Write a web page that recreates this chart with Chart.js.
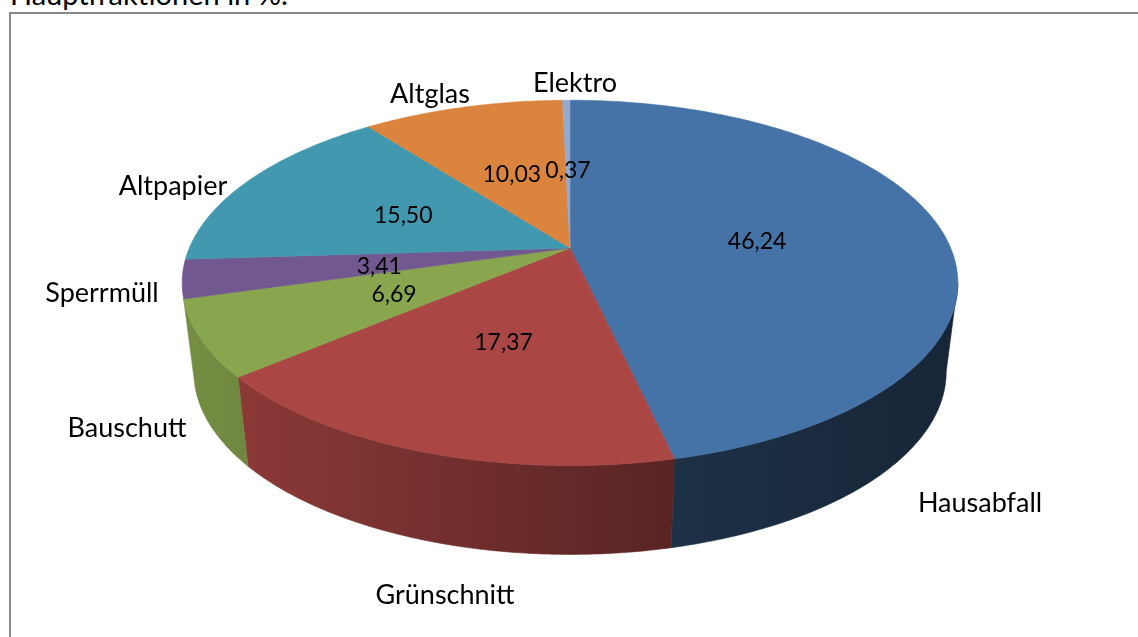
<!DOCTYPE html>
<html>
<head>
<meta charset="utf-8">
<script src="https://cdn.jsdelivr.net/npm/chart.js@4.4.1/dist/chart.umd.min.js"></script>
<style>
html, body { margin: 0; padding: 0; background: #fff; overflow: hidden; }
#wrap { position: relative; width: 1138px; height: 637px; overflow: hidden; }
#title { position: absolute; left: 10px; top: -21px; font: 29px Lato, sans-serif; line-height: 29px; color: #000; white-space: nowrap; }
#frame { position: absolute; left: 9px; top: 12px; width: 1300px; height: 800px; border-top: 2px solid #898989; border-left: 2px solid #898989; }
canvas { position: absolute; left: 0; top: 0; }
</style>
</head>
<body>
<div id="wrap">
    <div id="title">Hauptfraktionen in %.</div>
    <div id="frame"></div>
    <canvas id="pieChart" width="1138" height="637"></canvas>
</div>
<script>
// Hauptfraktionen in %
const categories = ['Hausabfall', 'Grünschnitt', 'Bauschutt', 'Sperrmüll', 'Altpapier', 'Altglas', 'Elektro'];
const shares = [46.24, 17.37, 6.69, 3.41, 15.50, 10.03, 0.37];

const topColors = ['#4572A7', '#AA4643', '#89A54E', '#71588F', '#4198AF', '#DB843D', '#93A9CF'];

// outer label anchors (centre x, baseline y)
const labelAnchors = [[980, 512], [445, 604], [127, 437], [102, 302], [173, 195], [430, 103], [575, 92]];

function shade(hex, f) {
    const n = parseInt(hex.slice(1), 16);
    const r = Math.round(((n >> 16) & 255) * f);
    const g = Math.round(((n >> 8) & 255) * f);
    const b = Math.round((n & 255) * f);
    return `rgb(${r},${g},${b})`;
}

// draws the pie as a tilted 3D disc, using the angles chart.js computed
const pie3d = {
    id: 'pie3d',
    beforeDatasetsDraw(chart, args, opts) {
        const ctx = chart.ctx;
        const arcs = chart.getDatasetMeta(0).data;
        const colors = chart.data.datasets[0].backgroundColor;
        const cx = arcs[0].x, cy = arcs[0].y, R = arcs[0].outerRadius;
        const A = R * opts.sx, B = R * opts.sy, e = opts.persp, d = R * opts.depth, s = opts.bottomScale;

        const proj = (t, r = 1) => {
            const u = r * Math.cos(t), v = r * Math.sin(t), w = 1 - e * v;
            return [cx + A * u / w, cy + B * v / w];
        };
        const tL = Math.asin(e), tR = Math.PI - tL;
        const xL = cx - A / Math.sqrt(1 - e * e), xR = cx + A / Math.sqrt(1 - e * e);

        // side walls (skip slivers hidden at the silhouette)
        arcs.forEach((arc, i) => {
            const a = Math.max(arc.startAngle, tL), b = Math.min(arc.endAngle, tR);
            if (b - a < 0.1) return;
            const n = Math.max(4, Math.ceil((b - a) * 80));
            const top = [];
            for (let k = 0; k <= n; k++) top.push(proj(a + (b - a) * k / n));
            ctx.beginPath();
            top.forEach((p, k) => k ? ctx.lineTo(p[0], p[1]) : ctx.moveTo(p[0], p[1]));
            for (let k = n; k >= 0; k--) {
                const p = top[k];
                ctx.lineTo(cx + (p[0] - cx) * s, p[1] + d);
            }
            ctx.closePath();
            const m = opts.sideDark[i];
            const g = ctx.createLinearGradient(xL, 0, xR, 0);
            g.addColorStop(0, shade(colors[i], 0.86 * m));
            g.addColorStop(0.63, shade(colors[i], 0.52 * m));
            g.addColorStop(1, shade(colors[i], 0.40 * m));
            ctx.fillStyle = g;
            ctx.fill();
            ctx.strokeStyle = g;
            ctx.lineWidth = 0.6;
            ctx.stroke();
        });

        // top faces
        arcs.forEach((arc, i) => {
            const a = arc.startAngle, b = arc.endAngle;
            const n = Math.max(2, Math.ceil((b - a) * 80));
            ctx.beginPath();
            ctx.moveTo(cx, cy);
            for (let k = 0; k <= n; k++) {
                const p = proj(a + (b - a) * k / n);
                ctx.lineTo(p[0], p[1]);
            }
            ctx.closePath();
            ctx.fillStyle = colors[i];
            ctx.fill();
            ctx.strokeStyle = colors[i];
            ctx.lineWidth = 0.6;
            ctx.stroke();
        });
        return false;
    },
    afterDraw(chart, args, opts) {
        const ctx = chart.ctx;
        const arcs = chart.getDatasetMeta(0).data;
        const cx = arcs[0].x, cy = arcs[0].y, R = arcs[0].outerRadius;
        const A = R * opts.sx, B = R * opts.sy, e = opts.persp;
        const values = chart.data.datasets[0].data;

        ctx.save();
        ctx.fillStyle = '#000';
        ctx.textAlign = 'center';
        ctx.textBaseline = 'middle';
        ctx.font = '23px Lato, sans-serif';
        arcs.forEach((arc, i) => {
            const t = (arc.startAngle + arc.endAngle) / 2;
            const u = 0.5 * Math.cos(t), v = 0.5 * Math.sin(t), w = 1 - e * v;
            const txt = values[i].toFixed(2).replace('.', ',');
            ctx.fillText(txt, cx + A * u / w, cy + B * v / w + 3);
        });

        ctx.textBaseline = 'alphabetic';
        ctx.font = '27px Lato, sans-serif';
        chart.data.labels.forEach((lab, i) => {
            const p = opts.anchors[i];
            ctx.fillText(lab, p[0], p[1]);
        });
        ctx.restore();
    }
};

new Chart(document.getElementById('pieChart'), {
    type: 'pie',
    data: {
        labels: categories,
        datasets: [{
            data: shares,
            backgroundColor: topColors,
            borderWidth: 0
        }]
    },
    options: {
        responsive: false,
        animation: false,
        layout: { padding: { left: 394, right: 392, top: 72, bottom: 213 } },
        plugins: {
            legend: { display: false },
            tooltip: { enabled: false },
            pie3d: {
                sx: 2.163, sy: 1.0, persp: 0.191, depth: 0.505, bottomScale: 0.97,
                sideDark: [0.82, 1, 1, 1, 1, 1, 1],
                anchors: labelAnchors
            }
        }
    },
    plugins: [pie3d]
});
</script>
</body>
</html>
